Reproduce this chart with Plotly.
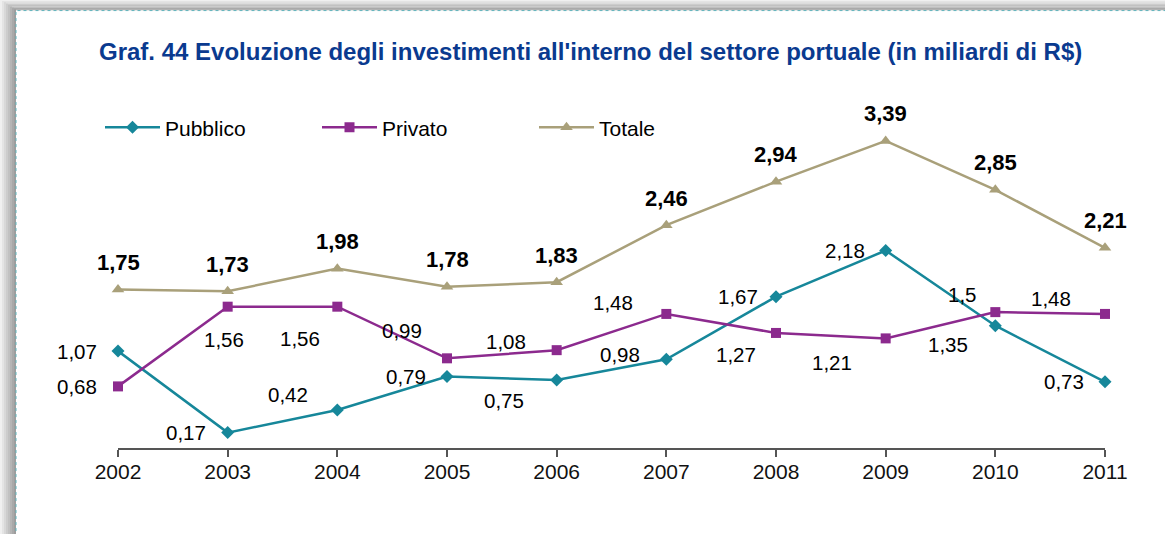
import plotly.graph_objects as go

# Investimenti nel settore portuale (miliardi di R$)
anni = [2002, 2003, 2004, 2005, 2006, 2007, 2008, 2009, 2010, 2011]
pubblico = [1.07, 0.17, 0.42, 0.79, 0.75, 0.98, 1.67, 2.18, 1.35, 0.73]
privato = [0.68, 1.56, 1.56, 0.99, 1.08, 1.48, 1.27, 1.21, 1.5, 1.48]
totale = [1.75, 1.73, 1.98, 1.78, 1.83, 2.46, 2.94, 3.39, 2.85, 2.21]

# label offsets in pixels (xshift, yshift) for each point
off_pubblico = [(-41, 0), (-42, 0), (-49, 15), (-41, 0), (-53, -20),
                (-46, 5), (-38, 0), (-41, 0), (-47, -19), (-41, 0)]
off_privato = [(-41, 0), (-4, -33), (-37, -32), (-45, 28), (-51, 9),
               (-53, 11), (-40, -22), (-54, -24), (-33, 18), (-54, 15)]
off_totale = [(0, 27)] * 10

C_PUB = "#16879a"
C_PRI = "#8c2a8e"
C_TOT = "#a9a07a"
FONT = "Liberation Sans, Arial, sans-serif"

Y_MAX = 3.4
W, H = 1165, 534
L, R, B = 118, 60, 86
PW = W - L - R
PH = Y_MAX * 90.5
T = H - B - PH


def px_x(p):
    return (p - L) / PW


def px_y(p):
    return (H - B - p) / PH


def fmt(v):
    return f"{v:g}".replace(".", ",")


fig = go.Figure()

series = [
    ("Pubblico", pubblico, C_PUB, "diamond", 10, off_pubblico, False),
    ("Privato", privato, C_PRI, "square", 10, off_privato, False),
    ("Totale", totale, C_TOT, "triangle-up", 11, off_totale, True),
]

annotations = []
for name, vals, col, sym, size, offs, bold in series:
    fig.add_trace(go.Scatter(
        x=anni, y=vals, name=name, mode="lines+markers",
        line=dict(color=col, width=2.5),
        marker=dict(symbol=sym, size=size, color=col),
        cliponaxis=False,
    ))
    for xv, yv, (dx, dy) in zip(anni, vals, offs):
        t = fmt(yv)
        annotations.append(dict(
            x=xv, y=yv, xref="x", yref="y", showarrow=False,
            text=f"<b>{t}</b>" if bold else t,
            xshift=dx, yshift=dy, xanchor="center", yanchor="middle",
            font=dict(family=FONT, size=22 if bold else 20.5, color="#000000"),
        ))

annotations.append(dict(
    x=px_x(590), y=px_y(52), xref="paper", yref="paper", showarrow=False,
    text="<b>Graf. 44 Evoluzione degli investimenti all'interno del settore portuale (in miliardi di R$)</b>",
    xanchor="center", yanchor="middle",
    font=dict(family=FONT, size=24, color="#0a3a8f"),
))

# frame: soft grey shadow along the top and left edges, dotted border
shapes = []
steps = 8
for i in range(steps):
    g = int(240 - (240 - 158) * i / (steps - 1))
    colr = f"rgb({g},{g},{g})"
    x0 = 16 * i / steps
    x1 = 16 * (i + 1) / steps
    shapes.append(dict(type="rect", xref="paper", yref="paper",
                       x0=px_x(x0), x1=px_x(x1), y0=px_y(H), y1=px_y(11 * i / steps),
                       fillcolor=colr, line=dict(width=0), layer="below"))
    y0 = 11 * i / steps
    y1 = 11 * (i + 1) / steps
    shapes.append(dict(type="rect", xref="paper", yref="paper",
                       x0=px_x(x0), x1=px_x(W), y0=px_y(y1), y1=px_y(y0),
                       fillcolor=colr, line=dict(width=0), layer="below"))
shapes.append(dict(type="rect", xref="paper", yref="paper",
                   x0=px_x(16), x1=px_x(W + 5), y0=px_y(H + 5), y1=px_y(11),
                   fillcolor="white", line=dict(color="#5fb3bb", width=1, dash="dot"),
                   layer="below"))

fig.update_layout(
    width=W, height=H,
    margin=dict(l=L, r=R, t=T, b=B),
    paper_bgcolor="white", plot_bgcolor="rgba(0,0,0,0)",
    font=dict(family=FONT, size=21, color="#000000"),
    showlegend=True,
    legend=dict(orientation="h", x=px_x(100), y=px_y(128),
                xanchor="left", yanchor="middle",
                entrywidth=147, entrywidthmode="pixels",
                font=dict(family=FONT, size=21, color="#000000"),
                bgcolor="rgba(0,0,0,0)", itemwidth=55),
    xaxis=dict(range=[2002, 2011], tickmode="array", tickvals=anni,
               ticktext=[str(a) for a in anni], showgrid=False, zeroline=False,
               showline=True, linecolor="#555555", linewidth=1.5,
               ticks="outside", ticklen=7, tickcolor="#555555", tickwidth=1.5,
               ticklabelstandoff=-3,
               tickfont=dict(family=FONT, size=21, color="#111111")),
    yaxis=dict(range=[0, Y_MAX], visible=False, showgrid=False, zeroline=False),
    annotations=annotations,
    shapes=shapes,
)

fig.write_html("out.html")
